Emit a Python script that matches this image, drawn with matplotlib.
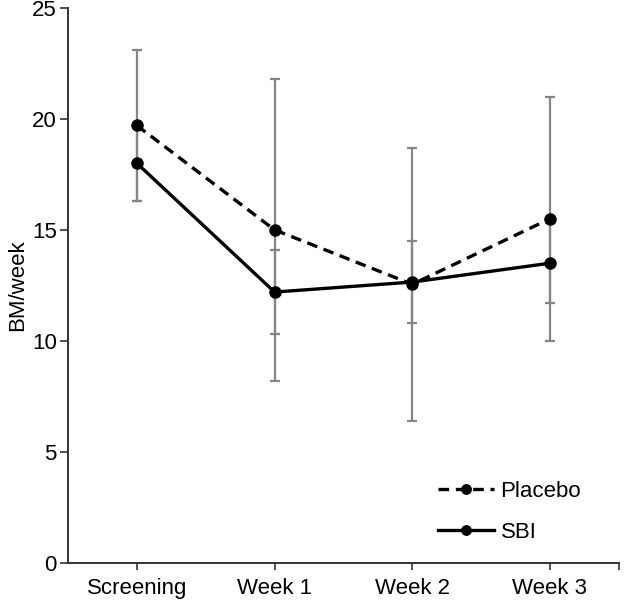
import numpy as np
import matplotlib.pyplot as plt

plt.rcParams['font.family'] = ['Liberation Sans', 'DejaVu Sans']

visits = ['Screening', 'Week 1', 'Week 2', 'Week 3']
placebo = [19.7, 15.0, 12.55, 15.5]
placebo_err = [3.4, 6.8, 6.15, 5.5]
sbi = [18.0, 12.2, 12.65, 13.5]
sbi_err = [1.7, 1.9, 1.85, 1.8]

x = np.arange(len(visits))

fig = plt.figure(figsize=(6.27, 6.0), dpi=100)
ax = fig.add_axes([0.1085, 0.0617, 0.8785, 0.9253])

# error bars (grey, behind the lines)
ax.errorbar(x, placebo, yerr=placebo_err, fmt='none', ecolor='#858585',
            elinewidth=1.6, capsize=3.3, capthick=1.6, zorder=1)
ax.errorbar(x, sbi, yerr=sbi_err, fmt='none', ecolor='#858585',
            elinewidth=1.6, capsize=3.3, capthick=1.6, zorder=1)

ax.plot(x, placebo, color='black', lw=2.4, ls=(0, (3.2, 2.0)), marker='o',
        markersize=8, label='Placebo', zorder=3)
ax.plot(x, sbi, color='black', lw=2.4, ls='-', marker='o',
        markersize=8, label='SBI', zorder=3)

ax.set_xlim(-0.5, 3.5)
ax.set_ylim(0, 25)
ax.set_xticks(list(x) + [3.5])
ax.set_xticklabels(visits + [''], fontsize=16)
ax.set_yticks([0, 5, 10, 15, 20, 25])
ax.tick_params(axis='y', labelsize=16, length=6, width=1.2, color='#333333', pad=2)
ax.tick_params(axis='x', length=5, width=1.2, color='#333333', pad=6)
ax.set_ylabel('BM/week', fontsize=16, labelpad=3)

for s in ['top', 'right']:
    ax.spines[s].set_visible(False)
for s in ['left', 'bottom']:
    ax.spines[s].set_linewidth(1.4)
    ax.spines[s].set_color('#333333')

ax.legend(loc='lower right', bbox_to_anchor=(0.968, 0.0), frameon=False,
          fontsize=16, handlelength=2.5, handletextpad=0.3, labelspacing=0.9,
          markerscale=0.85)

fig.savefig('out.png', dpi=100)
